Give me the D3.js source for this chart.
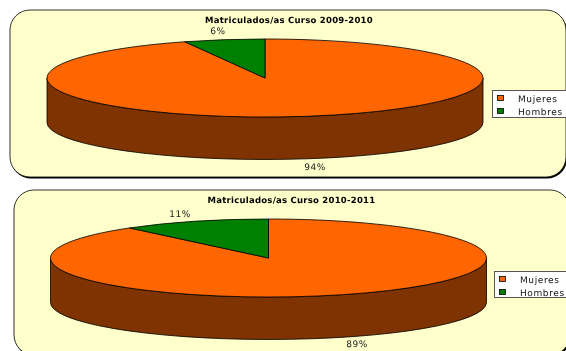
<!DOCTYPE html>
<html><head><meta charset="utf-8">
<script src="https://cdn.jsdelivr.net/npm/d3@7"></script>
<style>html,body{margin:0;padding:0;background:#fff;overflow:hidden}svg{display:block;filter:blur(0.3px)}text{font-family:"DejaVu Sans",Verdana,sans-serif;text-rendering:geometricPrecision}</style>
</head><body><svg id="c" width="566" height="351"></svg>
<script>
const categories = ["Mujeres", "Hombres"];
const colors = ["#FF6600", "#008000"];
const sideColor = "#7F3300";
const titles = ["Matriculados/as Curso 2009-2010", "Matriculados/as Curso 2010-2011"];
const values2009 = [94, 6];
const values2010 = [89, 11];

const layouts = [
  {values: values2009, title: titles[0], panel: [10, 10, 556, 167], cx: 265, cy: 78, titleX: 289, titleY: 23,
   labels: [[315, 170], [218, 34]], legend: [492, 90, 76, 27]},
  {values: values2010, title: titles[1], panel: [14, 190, 556, 165], cx: 268.5, cy: 258, titleX: 291.5, titleY: 203,
   labels: [[357, 347], [180, 217]], legend: [494, 271, 74, 26]}
];
const rx = 218, ry = 39, depth = 44.5, ryBottom = 37;
const svg = d3.select("#c");
const pie = d3.pie().sort(null).value(d => d);
const arc = d3.arc().innerRadius(0).outerRadius(rx);

layouts.forEach(L => {
  const [px, py, pw, ph] = L.panel;
  svg.append("rect").attr("x", px + 1).attr("y", py + 1.5).attr("width", pw).attr("height", ph)
    .attr("rx", 20).attr("fill", "#000");
  svg.append("rect").attr("x", px).attr("y", py).attr("width", pw).attr("height", ph)
    .attr("rx", 20).attr("fill", "#FFFFCC").attr("stroke", "#000").attr("stroke-width", 0.8);

  svg.append("text").attr("x", L.titleX).attr("y", L.titleY).attr("text-anchor", "middle")
    .attr("font-size", 8.5).attr("font-weight", "bold").attr("letter-spacing", 0.25).attr("fill", "#000").text(L.title);

  const g = svg.append("g").attr("transform", `translate(${L.cx},${L.cy})`);
  g.append("path")
    .attr("d", `M${-rx},0 L${-rx},${depth} A${rx},${ryBottom} 0 0 0 ${rx},${depth} L${rx},0 A${rx},${ry} 0 0 1 ${-rx},0 Z`)
    .attr("fill", sideColor).attr("stroke", "#000").attr("stroke-width", 0.8);
  g.append("g").attr("transform", `scale(1,${ry / rx})`)
    .selectAll("path").data(pie(L.values)).join("path")
    .attr("d", arc)
    .attr("fill", (d, i) => colors[i])
    .attr("stroke", "#000").attr("stroke-width", 0.8)
    .attr("vector-effect", "non-scaling-stroke");

  L.values.forEach((v, i) => {
    svg.append("text").attr("x", L.labels[i][0]).attr("y", L.labels[i][1]).attr("text-anchor", "middle")
      .attr("font-size", 9).attr("letter-spacing", 0.5).attr("fill", "#222").text(v + "%");
  });

  const [lx, ly, lw, lh] = L.legend;
  svg.append("rect").attr("x", lx + 0.5).attr("y", ly + 0.5).attr("width", lw).attr("height", lh)
    .attr("fill", "#fff").attr("stroke", "#555").attr("stroke-width", 1);
  categories.forEach((c, i) => {
    const y = ly + 5.5 + i * 13;
    svg.append("rect").attr("x", lx + 5.5).attr("y", y).attr("width", 6).attr("height", 5)
      .attr("fill", colors[i]).attr("stroke", "#000").attr("stroke-width", 0.8);
    svg.append("text").attr("x", lx + 26).attr("y", y + 6).attr("font-size", 9).attr("letter-spacing", 0.6)
      .attr("fill", "#111").text(c);
  });
});
</script></body></html>
